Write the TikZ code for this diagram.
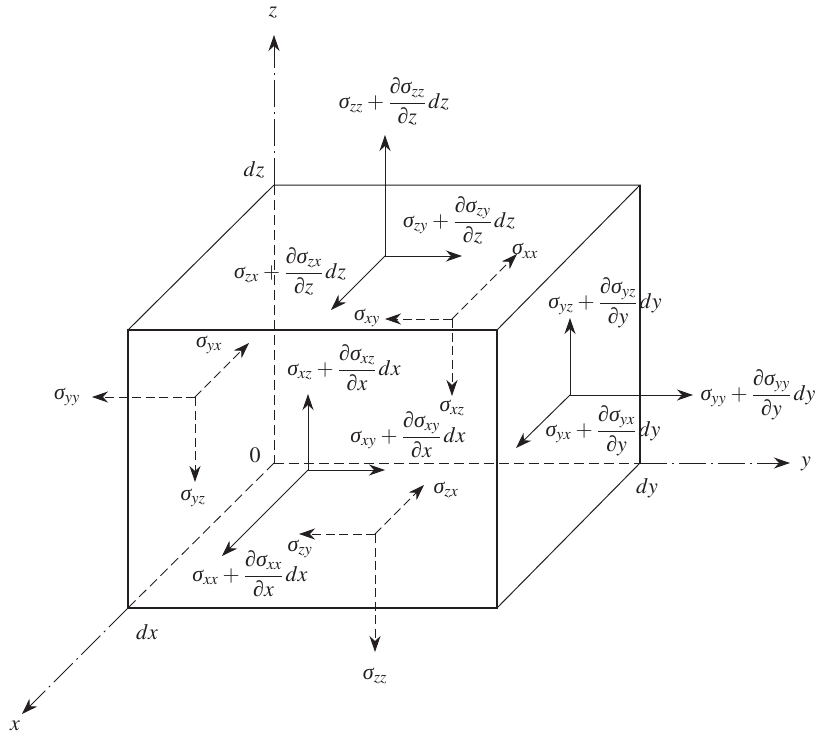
\documentclass[tikz,border=0pt]{standalone}
\usepackage{mathptmx}
\usepackage[no-math]{fontspec}
\setmainfont{Liberation Serif}
\usetikzlibrary{arrows.meta}
\definecolor{ink}{HTML}{231F20}
\newcommand{\sg}{\mbox{\itshape σ}}
\newcommand{\pd}{\mbox{\itshape ∂}}
\tikzset{
  x=1pt,y=-1pt,
  every node/.style={text=ink,inner sep=0pt,outer sep=0pt,font=\fontsize{22}{26}\selectfont},
  fraclabel/.style={anchor=base,yshift=-5.5pt},
  tip/.style={-{Stealth[length=16pt,width=11pt,inset=5pt]}},
  edgeline/.style={draw=ink,line width=1pt},
  thickedge/.style={draw=ink,line width=1.5pt},
  hiddenline/.style={draw=ink,line width=0.9pt,dash pattern=on 10pt off 5pt},
  axisline/.style={draw=ink,line width=0.9pt,dash pattern=on 27pt off 5pt on 2pt off 5pt,tip},
  solidforce/.style={draw=ink,line width=0.95pt,tip},
  dashforce/.style={draw=ink,line width=0.9pt,dash pattern=on 9pt off 4.5pt,tip}
}
\newcommand{\dd}[3]{\displaystyle\sg_{#1}\mskip1mu+\mskip1mu\frac{\pd\sg_{#1}}{\pd #2}\,#3}
\begin{document}
\begin{tikzpicture}
\useasboundingbox (0,0) rectangle (823,736);
% cube corners
\coordinate (A) at (128,330);
\coordinate (B) at (497,330);
\coordinate (C) at (497,608);
\coordinate (D) at (128,608);
\coordinate (E) at (274,185);
\coordinate (F) at (640,185);
\coordinate (G) at (640,463);
\coordinate (O) at (274,463);
\coordinate (Zend) at (274,35);
\coordinate (Yend) at (790,463);
\coordinate (Xend) at (22,714);
% hidden edges and axes
\draw[hiddenline] (E) -- (O);
\draw[hiddenline] (O) -- (G);
\draw[hiddenline] (O) -- (D);
\draw[axisline] (E) -- (Zend);
\draw[axisline] (G) -- (Yend);
\draw[axisline] (D) -- (Xend);
% visible edges
\draw[thickedge] (A) -- (B) -- (C) -- (D) -- cycle;
\draw[edgeline] (A) -- (E) -- (F) -- (B);
\draw[thickedge] (F) -- (G);
\draw[edgeline] (G) -- (C);
% force origins
\coordinate (P1) at (308,470);
\coordinate (P2) at (375,534);
\coordinate (P3) at (195,397);
\coordinate (P4) at (385,256);
\coordinate (P5) at (452,319);
\coordinate (P6) at (570,395);
% labels
\node[fraclabel] (zzp) at (394,103) {$\dd{zz}{z}{dz}$};
\node[fraclabel] (zyp) at (459,222) {$\dd{zy}{z}{dz}$};
\node[fraclabel] (zxp) at (290,273) {$\dd{zx}{z}{dz}$};
\node[fraclabel] (xzp) at (344,370) {$\dd{xz}{x}{dx}$};
\node[fraclabel] (xyp) at (408,437) {$\dd{xy}{x}{dx}$};
\node[fraclabel] (xxp) at (250,576) {$\dd{xx}{x}{dx}$};
\node[fraclabel] (yzp) at (605,303) {$\dd{yz}{y}{dy}$};
\node[fraclabel] (yyp) at (758,395) {$\dd{yy}{y}{dy}$};
\node[fraclabel] (yxp) at (603,431) {$\dd{yx}{y}{dy}$};
\node (sxx) at (525,251) {$\sg_{xx}$};
\node (sxy) at (367,318) {$\sg_{xy}$};
\node (sxz) at (452,408) {$\sg_{xz}$};
\node (szx) at (446,490) {$\sg_{zx}$};
\node (szy) at (300,549) {$\sg_{zy}$};
\node (szz) at (375,676) {$\sg_{zz}$};
\node (syx) at (209,345) {$\sg_{yx}$};
\node (syy) at (67,397) {$\sg_{yy}$};
\node (syz) at (193,498) {$\sg_{yz}$};
\node (lz) at (273,13) {$z$};
\node (ly) at (806,464) {$y$};
\node (lx) at (15,726) {$x$};
\node (l0) at (255,455) {$0$};
\node (ldz) at (254,170) {$dz$};
\node (ldy) at (647,488) {$dy$};
\node (ldx) at (147,632) {$dx$};
% free ends
\coordinate (a1u) at (308,394);
\coordinate (a1r) at (385,470);
\coordinate (a1d) at (222,556);
\coordinate (a2l) at (299,534);
\coordinate (a2u) at (424,485);
\coordinate (a2d) at (375,652);
\coordinate (a3l) at (92,397);
\coordinate (a3u) at (249,343);
\coordinate (a3d) at (195,482);
\coordinate (a4u) at (385,135);
\coordinate (a4r) at (462,256);
\coordinate (a4d) at (331,310);
\coordinate (a5l) at (385,319);
\coordinate (a5u) at (517,254);
\coordinate (a5d) at (452,396);
\coordinate (a6u) at (570,318);
\coordinate (a6r) at (693,395);
\coordinate (a6d) at (516,448);
% forces
\draw[solidforce] (P1) -- (a1u);
\draw[solidforce] (P1) -- (a1r);
\draw[solidforce] (P1) -- (a1d);
\draw[dashforce] (P2) -- (a2l);
\draw[dashforce] (P2) -- (a2u);
\draw[dashforce] (P2) -- (a2d);
\draw[dashforce] (P3) -- (a3l);
\draw[dashforce] (P3) -- (a3u);
\draw[dashforce] (P3) -- (a3d);
\draw[solidforce] (P4) -- (a4u);
\draw[solidforce] (P4) -- (a4r);
\draw[solidforce] (P4) -- (a4d);
\draw[dashforce] (P5) -- (a5l);
\draw[dashforce] (P5) -- (a5u);
\draw[dashforce] (P5) -- (a5d);
\draw[solidforce] (P6) -- (a6u);
\draw[solidforce] (P6) -- (a6r);
\draw[solidforce] (P6) -- (a6d);
\end{tikzpicture}
\end{document}
